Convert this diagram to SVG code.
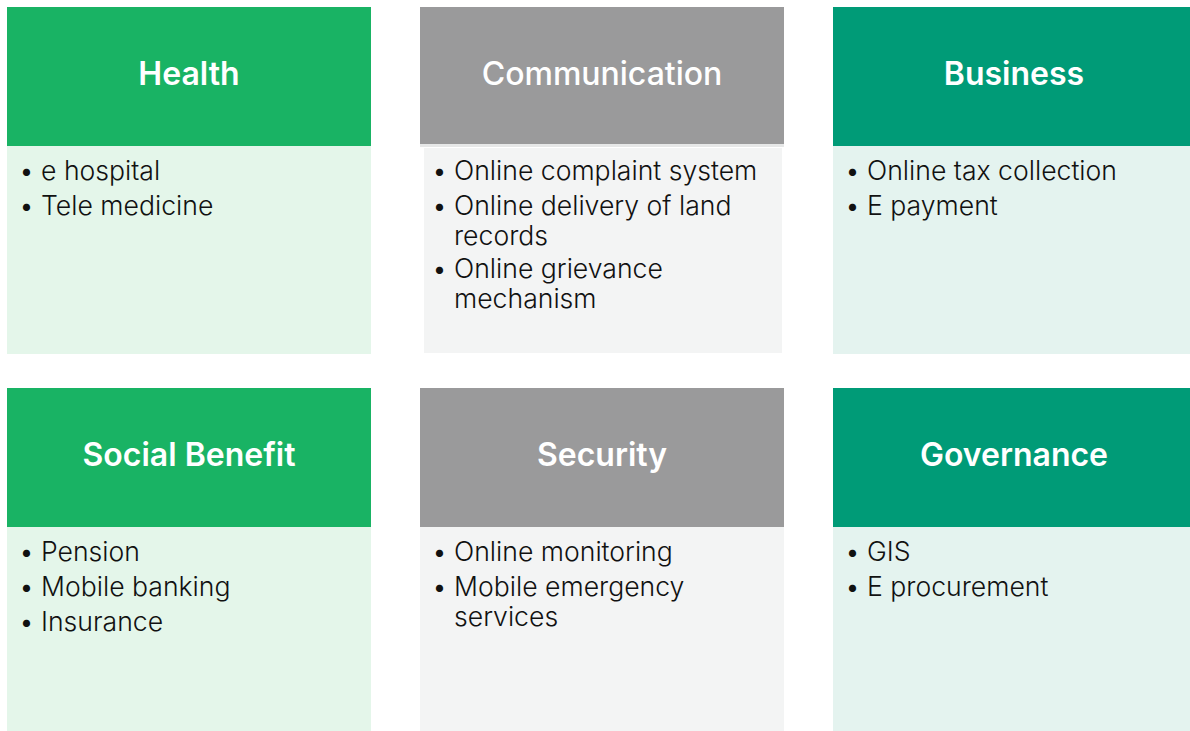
<svg xmlns="http://www.w3.org/2000/svg" width="1190" height="731" viewBox="0 0 1190 731">
<style>
.t{font-family:Inter,"Liberation Sans",sans-serif;font-size:32px;font-weight:560;fill:#ffffff;text-anchor:middle}
.tm{font-weight:480}
.b{font-family:Inter,"Liberation Sans",sans-serif;font-size:26.6px;font-weight:300;fill:#111111}
.g{fill:#19B364}.gl{fill:#E4F6EA}
.s{fill:#9A9A9B}.sl{fill:#F3F4F4}
.e{fill:#009B77}.el{fill:#E4F3EF}
</style>
<rect width="1190" height="731" fill="#ffffff"/>
<g id="health">
<rect class="gl" x="7" y="146" width="364" height="208"/>
<rect class="g" x="7" y="7" width="364" height="139"/>
<text class="t" x="189" y="85">Health</text>
<text class="b" x="19" y="180">•</text><text class="b" x="41" y="180">e hospital</text>
<text class="b" x="19" y="215">•</text><text class="b" x="41" y="215">Tele medicine</text>
</g>
<g id="communication">
<rect fill="#E6E7E7" x="420" y="144" width="364" height="3"/>
<rect class="sl" x="424" y="148" width="358" height="205"/>
<rect class="s" x="420" y="7" width="364" height="137"/>
<text class="t tm" x="602" y="85">Communication</text>
<text class="b" x="432" y="180">•</text><text class="b" x="454" y="180">Online complaint system</text>
<text class="b" x="432" y="215">•</text><text class="b" x="454" y="215">Online delivery of land</text>
<text class="b" x="454" y="245">records</text>
<text class="b" x="432" y="278">•</text><text class="b" x="454" y="278">Online grievance</text>
<text class="b" x="454" y="308">mechanism</text>
</g>
<g id="business">
<rect class="el" x="833" y="146" width="364" height="208"/>
<rect class="e" x="833" y="7" width="364" height="139"/>
<text class="t" x="1014" y="85">Business</text>
<text class="b" x="845" y="180">•</text><text class="b" x="867" y="180">Online tax collection</text>
<text class="b" x="845" y="215">•</text><text class="b" x="867" y="215">E payment</text>
</g>
<g id="social-benefit">
<rect class="gl" x="7" y="527" width="364" height="204"/>
<rect class="g" x="7" y="388" width="364" height="139"/>
<text class="t" x="189" y="466">Social Benefit</text>
<text class="b" x="19" y="561">•</text><text class="b" x="41" y="561">Pension</text>
<text class="b" x="19" y="596">•</text><text class="b" x="41" y="596">Mobile banking</text>
<text class="b" x="19" y="631">•</text><text class="b" x="41" y="631">Insurance</text>
</g>
<g id="security">
<rect class="sl" x="420" y="527" width="364" height="204"/>
<rect class="s" x="420" y="388" width="364" height="139"/>
<text class="t" x="602" y="466">Security</text>
<text class="b" x="432" y="561">•</text><text class="b" x="454" y="561">Online monitoring</text>
<text class="b" x="432" y="596">•</text><text class="b" x="454" y="596">Mobile emergency</text>
<text class="b" x="454" y="626">services</text>
</g>
<g id="governance">
<rect class="el" x="833" y="527" width="364" height="204"/>
<rect class="e" x="833" y="388" width="364" height="139"/>
<text class="t" x="1014" y="466">Governance</text>
<text class="b" x="845" y="561">•</text><text class="b" x="867" y="561">GIS</text>
<text class="b" x="845" y="596">•</text><text class="b" x="867" y="596">E procurement</text>
</g>
<g id="connectors"/>
</svg>
